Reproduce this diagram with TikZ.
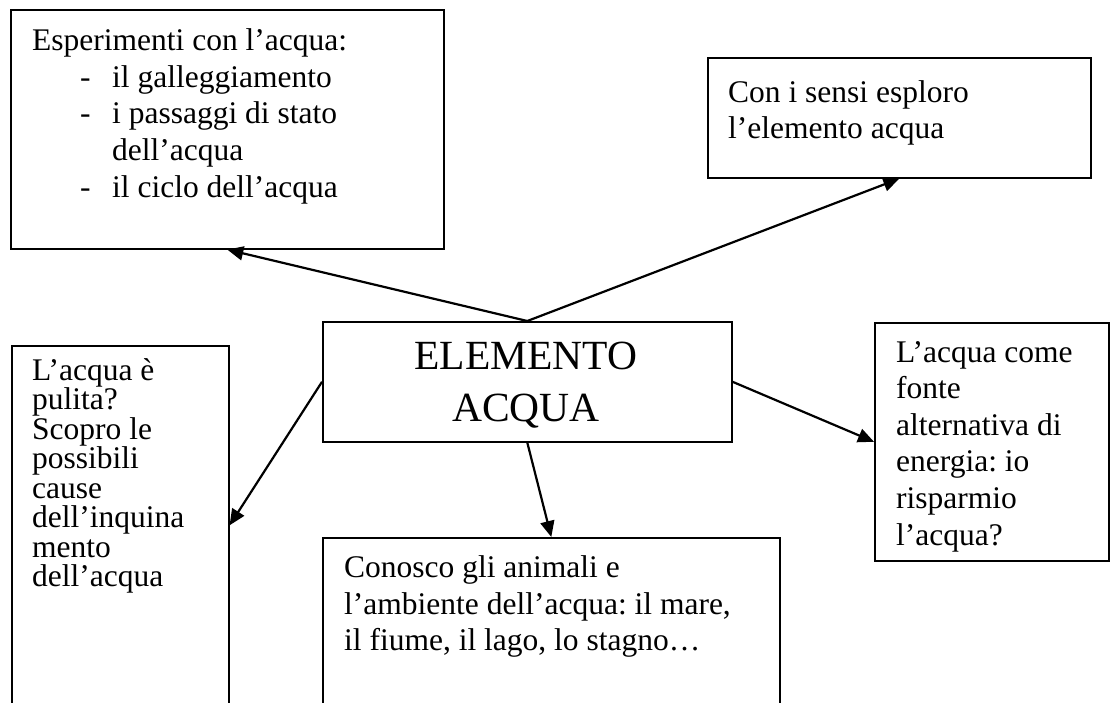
\documentclass[tikz,border=0pt]{standalone}
\usepackage{fontspec}
\setmainfont{Liberation Serif}
\usetikzlibrary{arrows.meta}
\frenchspacing
\begin{document}
\begin{tikzpicture}[x=1pt,y=-1pt,
  box/.style={draw, line width=1.6pt, rectangle, inner sep=0pt, anchor=north west},
  txt/.style={anchor=base west, inner sep=0pt, font=\fontsize{31.5}{36.6}\selectfont},
  big/.style={anchor=base, inner sep=0pt, font=\fontsize{41.5}{52}\selectfont},
  conn/.style={line width=2.2pt, -{Triangle[length=16pt,width=14pt]}}]
\useasboundingbox (0,0) rectangle (1110,702);
\clip (0,0) rectangle (1110,702);
% boxes
\node[box, minimum width=433pt, minimum height=239pt] (b1) at (10,9) {};
\node[box, minimum width=383pt, minimum height=120pt] (b2) at (707,57) {};
\node[box, minimum width=409pt, minimum height=120pt] (c) at (322,321) {};
\node[box, minimum width=217pt, minimum height=359pt] (bl) at (11,345) {};
\node[box, minimum width=457pt, minimum height=170pt] (bb) at (322,537) {};
\node[box, minimum width=234pt, minimum height=238pt] (br) at (874,322) {};
% box 1 text
\node[txt] (t1a) at (32,50) {Esperimenti con l’acqua:};
\node[txt] (d1) at (80,87) {-};
\node[txt] (t1b) at (112,87) {il galleggiamento};
\node[txt] (d2) at (80,123) {-};
\node[txt] (t1c) at (112,123) {i passaggi di stato};
\node[txt] (t1d) at (112,160) {dell’acqua};
\node[txt] (d3) at (80,197) {-};
\node[txt] (t1e) at (112,197) {il ciclo dell’acqua};
% box 2 text
\node[txt] (t2a) at (728,102) {Con i sensi esploro};
\node[txt] (t2b) at (728,138) {l’elemento acqua};
% center text
\node[big] (tca) at (526,369) {ELEMENTO};
\node[big] (tcb) at (526,421) {ACQUA};
% left box text
\node[txt] (tl1) at (32,380) {L’acqua è};
\node[txt] (tl2) at (32,409.5) {pulita?};
\node[txt] (tl3) at (32,439) {Scopro le};
\node[txt] (tl4) at (32,468.5) {possibili};
\node[txt] (tl5) at (32,498) {cause};
\node[txt] (tl6) at (32,527.5) {dell’inquina};
\node[txt] (tl7) at (32,557) {mento};
\node[txt] (tl8) at (32,586.5) {dell’acqua};
% bottom box text
\node[txt] (tb1) at (344,577) {Conosco gli animali e};
\node[txt] (tb2) at (344,614) {l’ambiente dell’acqua: il mare,};
\node[txt] (tb3) at (344,650) {il fiume, il lago, lo stagno…};
% right box text
\node[txt] (tr1) at (896,362) {L’acqua come};
\node[txt] (tr2) at (896,398.6) {fonte};
\node[txt] (tr3) at (896,435.2) {alternativa di};
\node[txt] (tr4) at (896,471.8) {energia: io};
\node[txt] (tr5) at (896,508.4) {risparmio};
\node[txt] (tr6) at (896,545) {l’acqua?};
% connectors
\draw[conn] (c.north) -- (b1.south);
\draw[conn] (c.north) -- (b2.south);
\draw[conn] (c.west) -- (bl.east);
\draw[conn] (c.south) -- (bb.north);
\draw[conn] (c.east) -- (br.west);
\end{tikzpicture}
\end{document}
